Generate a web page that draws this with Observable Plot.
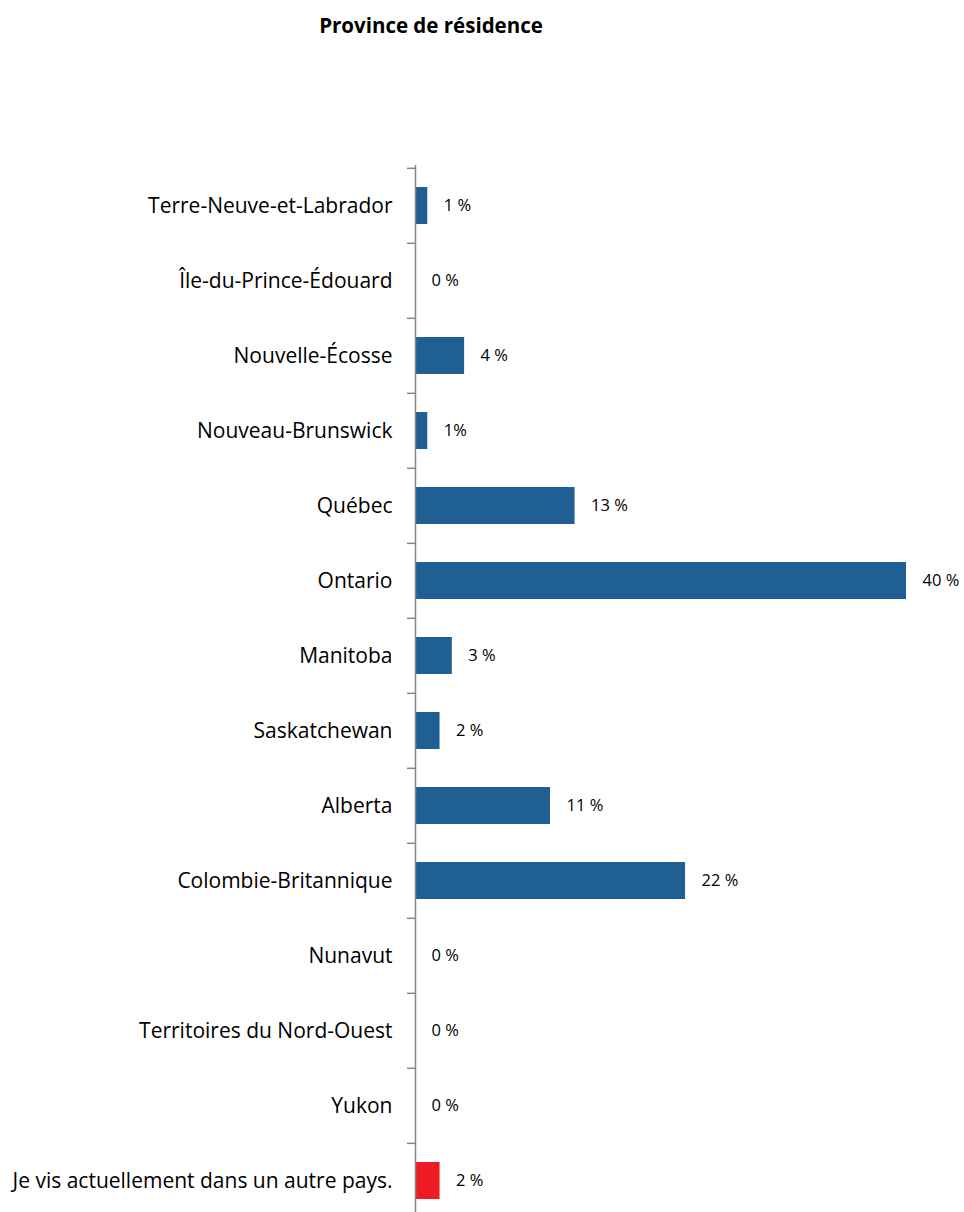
<!DOCTYPE html>
<html><head><meta charset="utf-8">
<script src="https://cdn.jsdelivr.net/npm/d3@7"></script>
<script src="https://cdn.jsdelivr.net/npm/@observablehq/plot@0.6"></script>
<style>
html,body{margin:0;padding:0;background:#fff;overflow:hidden;}
#wrap{position:relative;width:964px;height:1212px;}
#title{position:absolute;left:0;top:11px;width:862px;text-align:center;font:bold 20.5px "Open Sans",sans-serif;color:#000;}
</style></head>
<body><div id="wrap"><div id="title">Province de résidence</div></div>
<script>
const categories = ["Terre-Neuve-et-Labrador","Île-du-Prince-Édouard","Nouvelle-Écosse","Nouveau-Brunswick","Québec","Ontario","Manitoba","Saskatchewan","Alberta","Colombie-Britannique","Nunavut","Territoires du Nord-Ouest","Yukon","Je vis actuellement dans un autre pays."];
const values = [1,0,4,1,13,40,3,2,11,22,0,0,0,2];
const valueLabels = ["1 %","0 %","4 %","1%","13 %","40 %","3 %","2 %","11 %","22 %","0 %","0 %","0 %","2 %"];
const colors = ["#1F5F93","#1F5F93","#1F5F93","#1F5F93","#1F5F93","#1F5F93","#1F5F93","#1F5F93","#1F5F93","#1F5F93","#1F5F93","#1F5F93","#1F5F93","#ED1C24"];

const data = categories.map((c,i)=>({cat:c,value:values[i],label:valueLabels[i],color:colors[i]}));
const y0 = 165, y1 = 1220;
const step = (y1 - y0) / categories.length;
const pad = 0.51;

const chart = Plot.plot({
  width: 964, height: 1212,
  marginTop: 165, marginBottom: 0, marginLeft: 415, marginRight: 58,
  style: {fontFamily: "'Open Sans', sans-serif", background: "#fff"},
  x: {domain: [0, 40], range: [415, 906], axis: null},
  y: {domain: categories, range: [y0, y1], paddingInner: pad, paddingOuter: pad/2, axis: null},
  marks: [
    Plot.barX(data, {y: "cat", x: "value", fill: "color"}),
    Plot.ruleY(data, {y: "cat", dy: -step/2, x1: -0.65, x2: 0, stroke: "#868686", strokeWidth: 1.5}),
    Plot.ruleX([0], {stroke: "#868686", strokeWidth: 1.5}),
    Plot.text(data, {y: "cat", x: "value", text: "label", dx: 16, textAnchor: "start", fontSize: 16.5, fill: "#000"}),
    Plot.text(data, {y: "cat", x: 0, text: "cat", dx: -23, textAnchor: "end", fontSize: 21, fill: "#000"})
  ]
});
document.getElementById("wrap").appendChild(chart);
chart.style.position = "absolute"; chart.style.left = "0"; chart.style.top = "0";
document.getElementById("wrap").appendChild(document.getElementById("title"));
</script></body></html>
